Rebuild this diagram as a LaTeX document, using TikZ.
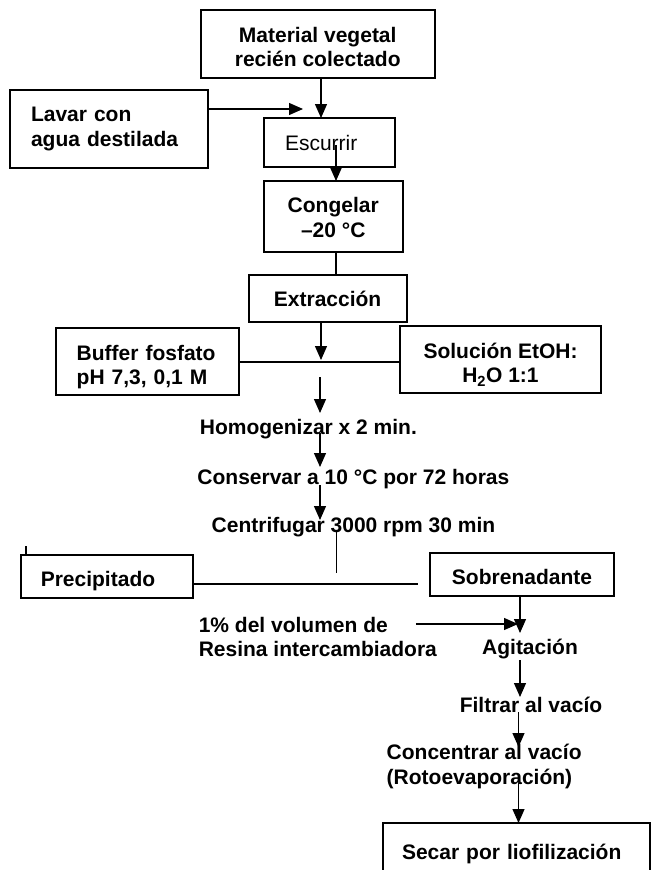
\documentclass[tikz,border=0pt]{standalone}
\usepackage{fontspec}
\setmainfont{Liberation Sans}
\usetikzlibrary{arrows.meta}
\newcommand\tdn[1]{\rule{0pt}{#1pt}}
\begin{document}
\begin{tikzpicture}[x=1pt,y=-1pt,
  box/.style={draw, line width=2pt, inner sep=0pt, outer sep=0pt, anchor=north west, font=\fontsize{21}{24.5}\selectfont\bfseries},
  lbl/.style={inner sep=0pt, outer sep=0pt, font=\fontsize{21}{24.5}\selectfont\bfseries},
  arr/.style={line width=1.3pt, -{Triangle[length=14pt,width=12pt]}},
  ln/.style={line width=1.3pt}]
\clip (0,0) rectangle (652,870);
\fill[white] (0,0) rectangle (652,870);
% boxes
\node[box, minimum width=233.5pt, minimum height=68pt, align=center] (mat) at (201,10) {\tdn{21.5}Material vegetal\\recién colectado};
\node[box, minimum width=198pt, minimum height=78pt, text width=156pt, inner xsep=21pt, align=left] (lav) at (10,90) {Lavar con\\agua destilada};
\node[box, minimum width=131pt, minimum height=49pt, text width=89pt, inner xsep=21pt, align=left, font=\fontsize{21}{24.5}\selectfont] (esc) at (264,118) {Escurrir};
\node[box, minimum width=138.5pt, minimum height=71pt, align=center] (cong) at (264,181) {\tdn{17}Congelar\\–20 °C};
\node[box, minimum width=158pt, minimum height=47pt, align=center] (ext) at (248.6,275) {Extracción};
\node[box, minimum width=183pt, minimum height=67pt, text width=141pt, inner xsep=21pt, align=left] (buf) at (55.7,328) {\tdn{26}Buffer fosfato\\pH 7,3, 0,1 M};
\node[box, minimum width=201pt, minimum height=67pt, align=center] (sol) at (400,326) {\tdn{25.5}Solución EtOH:\\H\textsubscript{2}O 1:1};
\node[box, minimum width=172.5pt, minimum height=43.5pt, text width=132.5pt, inner xsep=20pt, align=left] (prec) at (20.8,554.5) {\tdn{25.5}Precipitado};
\node[box, minimum width=184pt, minimum height=43pt, align=center] (sob) at (430,553) {\tdn{19.5}Sobrenadante};
\node[box, minimum width=267pt, minimum height=58pt, text width=229pt, inner xsep=19pt, align=left] (sec) at (383,823) {\tdn{19.5}Secar por liofilización};
% free labels
\node[lbl] (hom) at (308.4,429.5) {Homogenizar x 2 min.};
\node[lbl] (cons) at (353.4,479) {Conservar a 10 °C por 72 horas};
\node[lbl] (cen) at (353.5,527) {Centrifugar 3000 rpm 30 min};
\node[lbl, anchor=west, align=left] (res) at (198.8,637) {1\% del volumen de\\Resina intercambiadora};
\node[lbl] (agi) at (530,649) {Agitación};
\node[lbl] (fil) at (531,705) {Filtrar al vacío};
\node[lbl, anchor=west, align=left] (conc) at (386.7,766.5) {Concentrar al vacío\\(Rotoevaporación)};
% coordinates
\coordinate (c1) at (321,0);
\coordinate (lt) at (303,109);
\coordinate (e1) at (336,145);
\coordinate (j1) at (321,360);
\coordinate (j2) at (0,362);
\coordinate (h1) at (320,377);
\coordinate (h2) at (320,413);
\coordinate (h3) at (320,433);
\coordinate (h4) at (320,467);
\coordinate (h5) at (320,485);
\coordinate (h6) at (320,520);
\coordinate (v1) at (336.8,532);
\coordinate (v2) at (336.8,573);
\coordinate (p1) at (26,546);
\coordinate (p2) at (418,584);
\coordinate (s1) at (520,633);
\coordinate (r1) at (415.8,624);
\coordinate (r2) at (518,624);
\coordinate (a1) at (520,660);
\coordinate (a2) at (520,697);
\coordinate (f1) at (518.5,712);
\coordinate (f2) at (518.5,747);
\coordinate (k1) at (518.5,783);
% connectors
\draw[arr] (mat.south -| c1) -- (esc.north -| c1);
\draw[arr] (lav.east |- lt) -- (lt);
\draw[arr] (e1) -- (cong.north -| e1);
\draw[ln] (cong.south -| e1) -- (ext.north -| e1);
\draw[arr] (ext.south -| j1) -- (j1);
\draw[ln] (buf.east |- j2) -- (sol.west |- j2);
\draw[arr] (h1) -- (h2);
\draw[arr] (h3) -- (h4);
\draw[arr] (h5) -- (h6);
\draw[ln] (v1) -- (v2);
\draw[ln] (p1) -- (prec.north -| p1);
\draw[ln] (prec.east |- p2) -- (p2);
\draw[arr] (sob.south -| s1) -- (s1);
\draw[arr] (r1) -- (r2);
\draw[arr] (a1) -- (a2);
\draw[arr] (f1) -- (f2);
\draw[arr] (k1) -- (sec.north -| k1);
\end{tikzpicture}
\end{document}
